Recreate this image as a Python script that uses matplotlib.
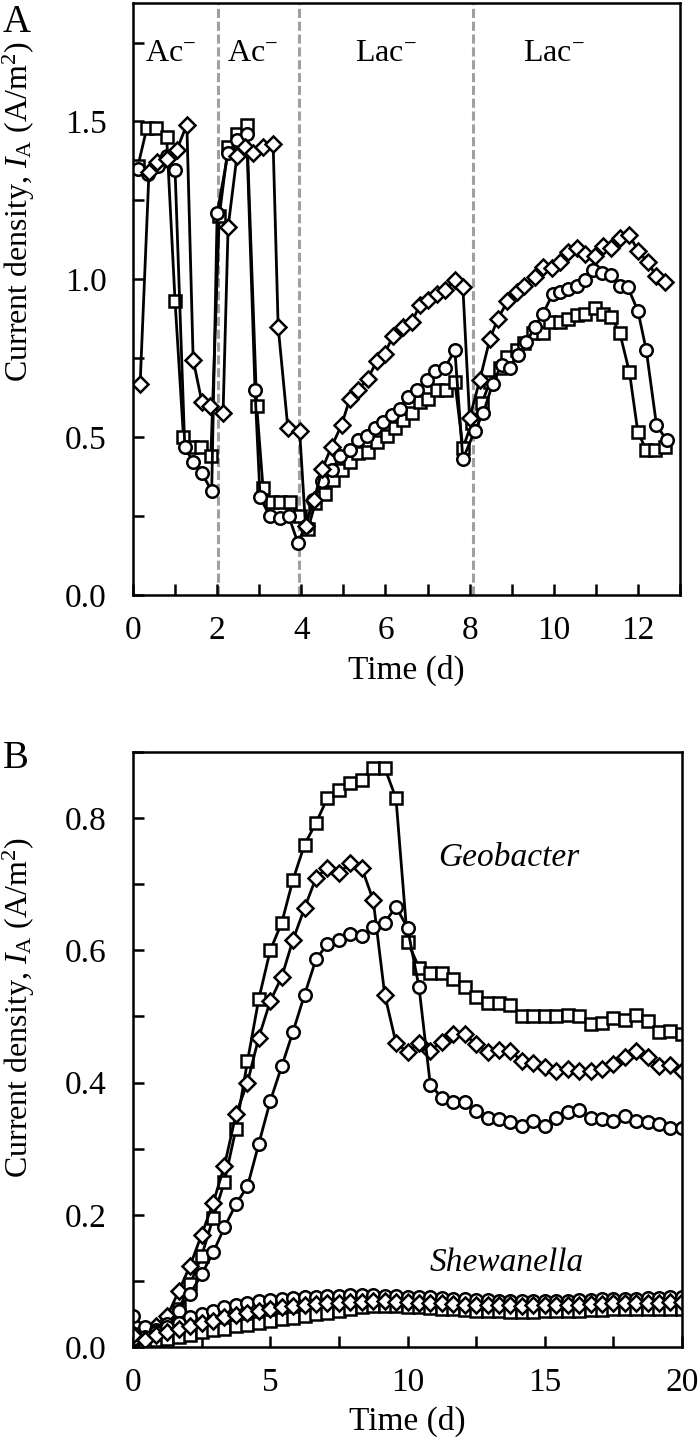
import matplotlib
matplotlib.use('Agg')
import matplotlib.pyplot as plt
from matplotlib.ticker import MultipleLocator

plt.rcParams['font.family'] = ['Liberation Serif', 'DejaVu Serif']
plt.rcParams['mathtext.fontset'] = 'custom'
plt.rcParams['mathtext.rm'] = 'Liberation Serif'
plt.rcParams['mathtext.it'] = 'Liberation Serif:italic'

# ---- panel A : acetate / lactate feeding cycles ----
tA_sq = [0.12, 0.33, 0.55, 0.8, 1.0, 1.2, 1.4, 1.62, 1.85, 2.05, 2.26, 2.47, 2.7, 2.94, 3.09, 3.3,
         3.5, 3.73, 3.96, 4.16, 4.33, 4.56, 4.75, 4.96, 5.15, 5.35, 5.58, 5.8, 6.03, 6.22, 6.41,
         6.63, 6.82, 7.0, 7.22, 7.45, 7.65, 7.84, 8.05, 8.29, 8.48, 8.72, 8.9, 9.12, 9.3, 9.5,
         9.74, 9.9, 10.14, 10.33, 10.55, 10.74, 10.97, 11.17, 11.37, 11.57, 11.8, 12.0, 12.2,
         12.41, 12.64]
iA_sq = [1.36, 1.48, 1.48, 1.45, 0.93, 0.5, 0.47, 0.47, 0.44, 1.2, 1.42, 1.46, 1.49, 0.6, 0.34,
         0.295, 0.295, 0.295, 0.25, 0.21, 0.29, 0.32, 0.365, 0.395, 0.42, 0.45, 0.453, 0.485,
         0.505, 0.528, 0.553, 0.575, 0.61, 0.622, 0.65, 0.65, 0.675, 0.465, 0.545, 0.607, 0.675,
         0.72, 0.755, 0.775, 0.797, 0.83, 0.83, 0.865, 0.865, 0.875, 0.886, 0.89, 0.91, 0.89,
         0.88, 0.83, 0.705, 0.515, 0.46, 0.46, 0.47]

tA_ci = [0.12, 0.36, 0.6, 0.8, 1.0, 1.23, 1.43, 1.64, 1.87, 2.0, 2.26, 2.47, 2.7, 2.9, 3.02, 3.25,
         3.5, 3.7, 3.92, 4.1, 4.28, 4.5, 4.72, 4.92, 5.15, 5.34, 5.55, 5.75, 5.95, 6.15, 6.34,
         6.53, 6.74, 6.98, 7.17, 7.41, 7.65, 7.84, 8.12, 8.32, 8.55, 8.76, 8.95, 9.15, 9.35, 9.55,
         9.74, 9.98, 10.14, 10.33, 10.55, 10.74, 10.93, 11.14, 11.37, 11.57, 11.76, 12.0, 12.2,
         12.44, 12.68]
iA_ci = [1.35, 1.335, 1.36, 1.39, 1.345, 0.47, 0.42, 0.385, 0.33, 1.21, 1.4, 1.44, 1.46, 0.65,
         0.31, 0.25, 0.245, 0.25, 0.165, 0.22, 0.30, 0.36, 0.395, 0.44, 0.46, 0.49, 0.505, 0.53,
         0.548, 0.57, 0.59, 0.627, 0.65, 0.68, 0.71, 0.72, 0.775, 0.43, 0.52, 0.575, 0.67, 0.73,
         0.72, 0.76, 0.80, 0.85, 0.89, 0.955, 0.96, 0.97, 0.98, 0.997, 1.03, 1.02, 1.013, 0.98,
         0.975, 0.9, 0.775, 0.54, 0.49]

tA_di = [0.17, 0.38, 0.57, 0.8, 1.04, 1.28, 1.43, 1.64, 1.83, 2.14, 2.26, 2.47, 2.66, 2.86, 3.09,
         3.33, 3.45, 3.68, 3.96, 4.1, 4.3, 4.5, 4.72, 4.96, 5.15, 5.35, 5.58, 5.79, 5.98, 6.18,
         6.42, 6.63, 6.82, 7.01, 7.22, 7.41, 7.65, 7.84, 8.0, 8.24, 8.48, 8.67, 8.9, 9.12, 9.3,
         9.55, 9.74, 9.95, 10.14, 10.33, 10.55, 10.74, 10.97, 11.17, 11.37, 11.57, 11.8, 12.0,
         12.23, 12.44, 12.64]
iA_di = [0.67, 1.34, 1.37, 1.38, 1.41, 1.49, 0.745, 0.61, 0.6, 0.575, 1.165, 1.39, 1.42, 1.40,
         1.42, 1.43, 0.85, 0.53, 0.52, 0.22, 0.30, 0.40, 0.47, 0.54, 0.62, 0.65, 0.685, 0.74,
         0.765, 0.82, 0.85, 0.865, 0.92, 0.935, 0.955, 0.965, 0.997, 0.975, 0.56, 0.68, 0.81,
         0.875, 0.93, 0.96, 0.98, 1.007, 1.04, 1.035, 1.055, 1.085, 1.1, 1.08, 1.075, 1.107, 1.1,
         1.13, 1.14, 1.09, 1.055, 1.01, 0.99]

feed_changes = [2.02, 3.95, 8.08]
feed_labels = ['Ac$^{-}$', 'Ac$^{-}$', 'Lac$^{-}$', 'Lac$^{-}$']
feed_label_t = [0.9, 2.85, 6.0, 10.0]

# ---- panel B : Geobacter vs Shewanella ----
tB = [0.0, 0.42, 0.83, 1.25, 1.67, 2.08, 2.5, 2.92, 3.33, 3.75, 4.17, 4.58, 5.0, 5.42, 5.83,
      6.25, 6.67, 7.08, 7.5, 7.92, 8.33, 8.75, 9.17, 9.58, 10.0, 10.42, 10.83, 11.25, 11.67,
      12.08, 12.5, 12.92, 13.33, 13.75, 14.17, 14.58, 15.0, 15.42, 15.83, 16.25, 16.67, 17.08,
      17.5, 17.92, 18.33, 18.75, 19.17, 19.58, 20.0]

geo_sq = [0.02, 0.015, 0.025, 0.035, 0.057, 0.095, 0.138, 0.195, 0.25, 0.33, 0.432, 0.526, 0.60,
          0.642, 0.707, 0.76, 0.793, 0.83, 0.843, 0.853, 0.858, 0.876, 0.876, 0.83, 0.613, 0.574,
          0.566, 0.566, 0.556, 0.544, 0.53, 0.52, 0.52, 0.518, 0.50, 0.50, 0.50, 0.50, 0.502,
          0.50, 0.488, 0.49, 0.497, 0.495, 0.502, 0.493, 0.477, 0.478, 0.473]
geo_di = [0.02, 0.025, 0.032, 0.047, 0.085, 0.123, 0.17, 0.218, 0.274, 0.352, 0.40, 0.468, 0.523,
          0.56, 0.616, 0.664, 0.71, 0.725, 0.717, 0.732, 0.725, 0.676, 0.533, 0.46, 0.446, 0.46,
          0.448, 0.462, 0.473, 0.473, 0.458, 0.446, 0.45, 0.448, 0.432, 0.43, 0.423, 0.417, 0.42,
          0.418, 0.417, 0.42, 0.428, 0.438, 0.447, 0.438, 0.425, 0.427, 0.417]
geo_ci = [0.047, 0.03, 0.025, 0.035, 0.055, 0.08, 0.11, 0.143, 0.181, 0.216, 0.243, 0.307, 0.372,
          0.425, 0.477, 0.533, 0.587, 0.609, 0.616, 0.624, 0.621, 0.636, 0.642, 0.666, 0.634,
          0.544, 0.397, 0.377, 0.37, 0.37, 0.357, 0.347, 0.345, 0.34, 0.334, 0.342, 0.334, 0.347,
          0.355, 0.359, 0.347, 0.345, 0.342, 0.35, 0.342, 0.34, 0.337, 0.332, 0.332]

she_sq = [0.01, 0.008, 0.01, 0.012, 0.015, 0.018, 0.022, 0.025, 0.028, 0.032, 0.034, 0.037, 0.04,
          0.042, 0.044, 0.047, 0.05, 0.052, 0.055, 0.058, 0.061, 0.062, 0.062, 0.062, 0.061, 0.06,
          0.059, 0.058, 0.057, 0.056, 0.055, 0.055, 0.054, 0.053, 0.053, 0.053, 0.054, 0.054,
          0.055, 0.055, 0.056, 0.056, 0.057, 0.057, 0.057, 0.058, 0.058, 0.058, 0.058]
she_di = [0.018, 0.01, 0.018, 0.022, 0.027, 0.032, 0.037, 0.04, 0.045, 0.048, 0.052, 0.055, 0.058,
          0.06, 0.062, 0.063, 0.065, 0.066, 0.067, 0.068, 0.068, 0.069, 0.069, 0.068, 0.068, 0.067,
          0.066, 0.066, 0.065, 0.064, 0.064, 0.063, 0.063, 0.063, 0.062, 0.063, 0.063, 0.063,
          0.064, 0.064, 0.065, 0.065, 0.066, 0.066, 0.066, 0.067, 0.067, 0.068, 0.068]
she_ci = [0.012, 0.015, 0.022, 0.03, 0.037, 0.045, 0.05, 0.055, 0.06, 0.063, 0.066, 0.069, 0.071,
          0.073, 0.074, 0.075, 0.076, 0.077, 0.077, 0.078, 0.078, 0.078, 0.077, 0.077, 0.076,
          0.075, 0.075, 0.074, 0.073, 0.072, 0.071, 0.071, 0.07, 0.069, 0.069, 0.069, 0.07, 0.07,
          0.07, 0.071, 0.071, 0.072, 0.072, 0.073, 0.073, 0.074, 0.074, 0.075, 0.076]

FS = 24
line = dict(color='black', lw=2.0, mfc='white', mec='black', mew=1.8)
ylab = 'Current density, $I_{\\mathrm{A}}$ (A/m$^2$)'

fig = plt.figure(figsize=(7, 14.45), dpi=100)
axA = fig.add_axes([0.19, 0.5882, 0.7814, 0.4097])
axB = fig.add_axes([0.19, 0.0678, 0.7843, 0.4118])

# panel A
for t in feed_changes:
    axA.axvline(t, color='#a0a0a0', lw=2.2, dashes=(3, 1.2), zorder=1)
axA.plot(tA_sq, iA_sq, marker='s', ms=8, **line)
axA.plot(tA_ci, iA_ci, marker='o', ms=9, **line)
axA.plot(tA_di, iA_di, marker='D', ms=8, **line)
for lab, t in zip(feed_labels, feed_label_t):
    axA.text(t, 1.715, lab, ha='center', va='center', fontsize=23)

axA.set_xlim(0, 13)
axA.set_ylim(0, 1.875)
axA.xaxis.set_major_locator(MultipleLocator(2))
axA.xaxis.set_minor_locator(MultipleLocator(1))
axA.set_yticks([0, 0.5, 1.0, 1.5])
axA.set_yticklabels(['0.0', '0.5', '1.0', '1.5'])
axA.yaxis.set_minor_locator(MultipleLocator(0.25))
axA.set_xlabel('Time (d)', fontsize=FS, labelpad=6)
axA.set_ylabel(ylab, fontsize=23)
axA.yaxis.set_label_coords(-0.175, 0.647)

# panel B
axB.plot(tB, geo_sq, marker='s', ms=8, **line)
axB.plot(tB, geo_di, marker='D', ms=8, **line)
axB.plot(tB, geo_ci, marker='o', ms=9, **line)
axB.plot(tB, she_sq, marker='s', ms=8, **line)
axB.plot(tB, she_ci, marker='o', ms=9, **line)
axB.plot(tB, she_di, marker='D', ms=8, **line)
axB.text(13.7, 0.74, 'Geobacter', style='italic', ha='center', va='center', fontsize=FS)
axB.text(13.6, 0.128, 'Shewanella', style='italic', ha='center', va='center', fontsize=FS)

axB.set_xlim(0, 20)
axB.set_ylim(0, 0.9)
axB.xaxis.set_major_locator(MultipleLocator(5))
axB.xaxis.set_minor_locator(MultipleLocator(2.5))
axB.set_yticks([0, 0.2, 0.4, 0.6, 0.8])
axB.set_yticklabels(['0.0', '0.2', '0.4', '0.6', '0.8'])
axB.yaxis.set_minor_locator(MultipleLocator(0.1))
axB.set_xlabel('Time (d)', fontsize=FS, labelpad=5)
axB.set_ylabel(ylab, fontsize=23)
axB.yaxis.set_label_coords(-0.175, 0.57)

for ax in (axA, axB):
    for s in ax.spines.values():
        s.set_linewidth(1.8)
    ax.tick_params(which='both', direction='in', length=8, width=1.8,
                   top=False, right=False, labelsize=FS)
    ax.tick_params(axis='y', which='both', pad=19)
    ax.tick_params(axis='x', which='both', pad=15)

fig.text(0.004, 0.997, 'A', fontsize=28, ha='left', va='top')
fig.text(0.004, 0.4754, 'B', fontsize=28, ha='left', va='center')

fig.savefig('out.png', dpi=100)
